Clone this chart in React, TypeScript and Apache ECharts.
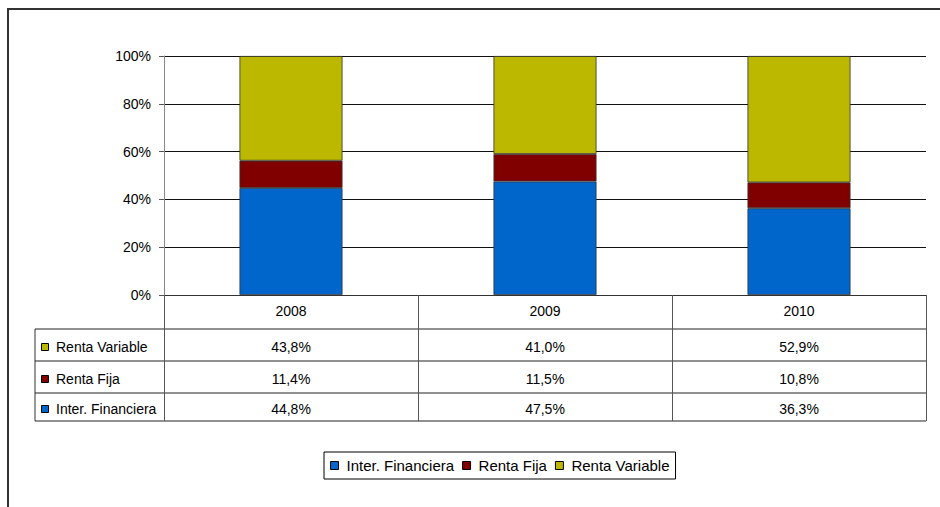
import React, { useEffect, useRef } from "react";
import * as echarts from "echarts";

const years = ["2008", "2009", "2010"];
const seriesNames = ["Inter. Financiera", "Renta Fija", "Renta Variable"];
const interFinanciera = [44.8, 47.5, 36.3];
const rentaFija = [11.4, 11.5, 10.8];
const rentaVariable = [43.8, 41.0, 52.9];
const yTicks = [0, 20, 40, 60, 80, 100];
const colors = ["#0066CC", "#800000", "#BCB800"];

const FONT = "'Liberation Sans', Arial, sans-serif";
const fmt = (v: number) => v.toFixed(1).replace(".", ",") + "%";

export default function App() {
  const ref = useRef<HTMLDivElement>(null);
  useEffect(() => {
    if (!ref.current) return;
    const chart = echarts.init(ref.current, null, { renderer: "svg" });

    const gridLeft = 164;
    const gridRight = 926;
    const gridTop = 56;
    const gridBottom = 295;
    const tableLeft = 35;
    const rowLines = [329, 361, 393, 421];
    const rows = [
      { name: seriesNames[2], data: rentaVariable, color: colors[2] },
      { name: seriesNames[1], data: rentaFija, color: colors[1] },
      { name: seriesNames[0], data: interFinanciera, color: colors[0] },
    ];
    const rowCenters = [347, 379, 409];
    const fs = 14;

    const graphic: any[] = [
      {
        type: "rect",
        shape: { x: 8, y: 9, width: 960, height: 520 },
        style: { fill: "none", stroke: "#333", lineWidth: 2 },
        silent: true,
      },
      {
        type: "line",
        shape: { x1: tableLeft, y1: rowLines[0], x2: tableLeft, y2: rowLines[3] },
        style: { stroke: "#333", lineWidth: 1 },
      },
    ];
    rowLines.forEach((y) =>
      graphic.push({
        type: "line",
        shape: { x1: tableLeft, y1: y, x2: gridRight, y2: y },
        style: { stroke: "#222", lineWidth: 1 },
      })
    );
    rows.forEach((r, i) => {
      graphic.push({
        type: "rect",
        shape: { x: 41.5, y: rowCenters[i] - 3.5, width: 7, height: 7 },
        style: { fill: r.color, stroke: "#000", lineWidth: 1 },
      });
      graphic.push({
        type: "text",
        x: 56,
        y: rowCenters[i],
        style: {
          text: r.name,
          fill: "#000",
          font: `${fs}px ${FONT}`,
          verticalAlign: "middle",
        },
      });
    });

    const valueAxes = rows.map((r, i) => ({
      type: "category",
      data: years,
      position: "bottom",
      offset: rowCenters[i] - fs / 2 - gridBottom,
      axisLine: { show: false },
      axisTick: { show: false },
      axisLabel: {
        margin: 0,
        fontSize: fs,
        fontFamily: FONT,
        color: "#000",
        formatter: (_v: string, idx: number) => fmt(r.data[idx]),
      },
      splitLine: { show: false },
    }));

    const option: any = {
      animation: false,
      backgroundColor: "#fff",
      grid: {
        left: gridLeft,
        right: 940 - gridRight,
        top: gridTop,
        bottom: 507 - gridBottom,
        containLabel: false,
      },
      legend: {
        data: seriesNames,
        left: 324,
        top: 452,
        orient: "horizontal",
        icon: "rect",
        itemWidth: 8,
        itemHeight: 8,
        itemGap: 8,
        padding: [6, 6, 6, 6],
        borderColor: "#000",
        borderWidth: 1,
        textStyle: { fontSize: 15, fontFamily: FONT, color: "#000", padding: [0, 0, 0, 3] },
        itemStyle: { borderColor: "#000", borderWidth: 1 },
      },
      xAxis: [
        {
          type: "category",
          data: years,
          position: "bottom",
          axisLine: { show: true, lineStyle: { color: "#333", width: 1 } },
          axisTick: {
            show: true,
            length: rowLines[3] - gridBottom,
            lineStyle: { color: "#555", width: 1 },
          },
          axisLabel: { margin: 9, fontSize: fs, fontFamily: FONT, color: "#000" },
          splitLine: { show: false },
        },
        ...valueAxes,
      ],
      yAxis: {
        type: "value",
        min: 0,
        max: 100,
        interval: 20,
        axisLine: { show: true, lineStyle: { color: "#888", width: 1 } },
        axisTick: { show: true, length: 5, lineStyle: { color: "#555" } },
        axisLabel: {
          margin: 13,
          fontSize: fs,
          fontFamily: FONT,
          color: "#000",
          formatter: (v: number) => (yTicks.includes(v) ? v + "%" : ""),
        },
        splitLine: { show: true, lineStyle: { color: "#111", width: 1 } },
      },
      series: [
        { name: seriesNames[0], data: interFinanciera },
        { name: seriesNames[1], data: rentaFija },
        { name: seriesNames[2], data: rentaVariable },
      ].map((s, i) => ({
        type: "bar",
        name: s.name,
        data: s.data,
        stack: "total",
        barWidth: 103,
        xAxisIndex: 0,
        itemStyle: { color: colors[i], borderColor: "#333", borderWidth: 0.8 },
      })),
      graphic,
    };
    chart.setOption(option);
    return () => chart.dispose();
  }, []);
  return (
    <div
      ref={ref}
      style={{ position: "fixed", left: 0, top: 0, width: 940, height: 507, background: "#fff" }}
    />
  );
}
